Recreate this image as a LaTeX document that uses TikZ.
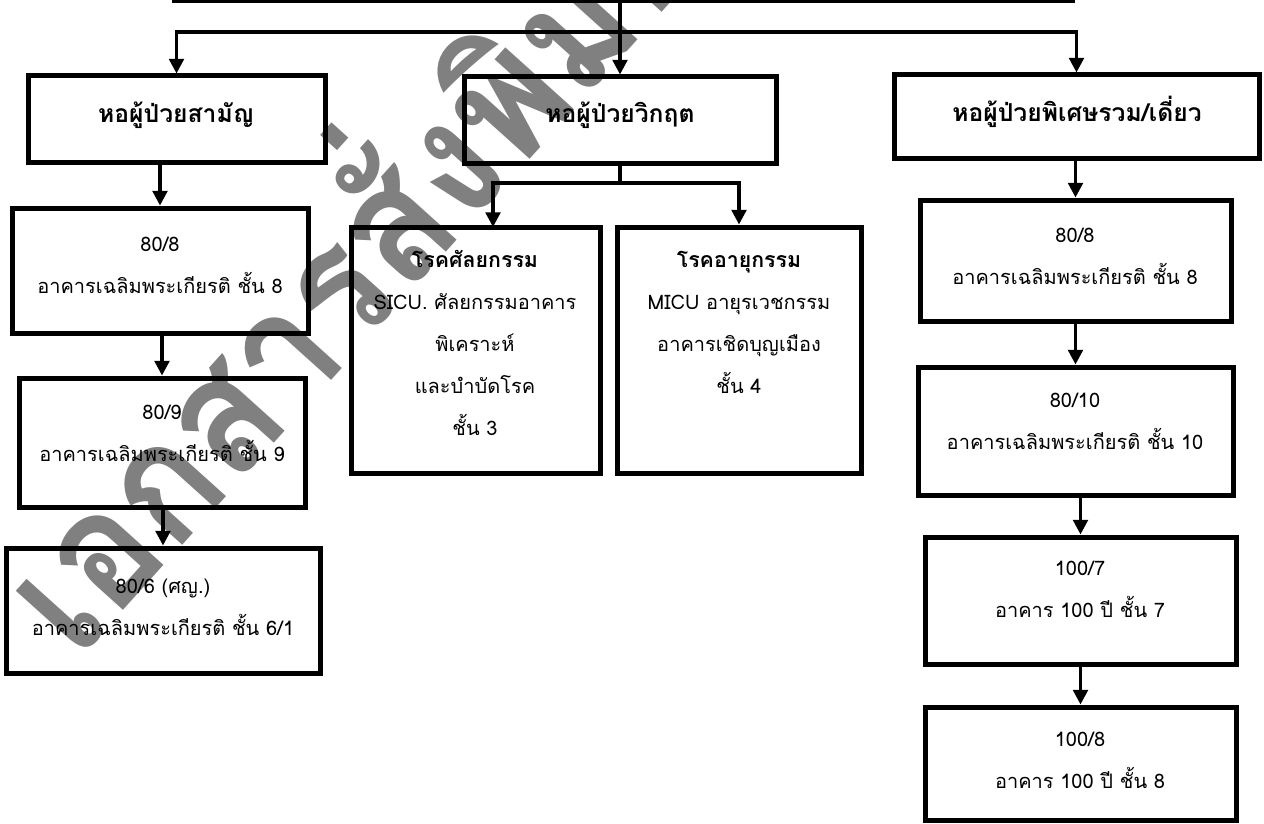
\documentclass[tikz,border=0pt]{standalone}
\usepackage{fontspec}
\newfontfamily\thai[Script=Thai]{Loma}
\usetikzlibrary{arrows.meta,fit}
\begin{document}
\begin{tikzpicture}[x=0.75pt,y=-0.75pt,
  box/.style={draw, line width=3.75pt, inner sep=0pt, rectangle},
  conn/.style={line width=2.5pt},
  arr/.style={conn, -{Triangle[length=11pt,width=11pt]}},
  txt/.style={font=\thai\fontsize{15}{31.5}\selectfont, align=center, inner sep=0pt},
  head/.style={font=\thai\bfseries\fontsize{18.5}{20}\selectfont, inner sep=0pt},
  wmark/.style={rotate=48, xscale=0.9, text=black!50, font=\thai\bfseries\fontsize{125}{125}\selectfont, inner sep=0pt}]
\useasboundingbox (0,0) rectangle (1264,824);
\clip (0,0) rectangle (1264,824);

% watermark
\node[wmark] (wm) at (333,251) {เอกสารสั่งพิมพ์};

% boxes
\node[box, fit={(174,-80) (1072,1)}] (top) {};
\node[box, fit={(28,76) (325,162)}] (box1) {};
\node[box, fit={(464,77) (776,163)}] (box2) {};
\node[box, fit={(894,75) (1259,158)}] (box3) {};
\node[box, fit={(12,208) (308,333)}] (L1) {};
\node[box, fit={(19,378) (305,507)}] (L2) {};
\node[box, fit={(6,548) (320,673)}] (L3) {};
\node[box, fit={(351,227) (600,473)}] (sicu) {};
\node[box, fit={(617,227) (861,473)}] (micu) {};
\node[box, fit={(920,200) (1231,321)}] (R1) {};
\node[box, fit={(918,367) (1233,495)}] (R2) {};
\node[box, fit={(925,537) (1236,664)}] (R3) {};
\node[box, fit={(925,707) (1236,820)}] (R4) {};

% texts
\node[head] (box1t) at (176,115) {หอผู้ป่วยสามัญ};
\node[head] (box2t) at (620,115) {หอผู้ป่วยวิกฤต};
\node[head] (box3t) at (1077,112) {หอผู้ป่วยพิเศษรวม/เดี่ยว};
\node[txt] (L1t) at (160,265) {80/8\\อาคารเฉลิมพระเกียรติ ชั้น 8};
\node[txt] (L2t) at (162,433) {80/9\\อาคารเฉลิมพระเกียรติ ชั้น 9};
\node[txt] (L3t) at (163,607) {80/6 (ศญ.)\\อาคารเฉลิมพระเกียรติ ชั้น 6/1};
\node[txt] (sicut) at (475,343) {{\bfseries\fontsize{16}{31.5}\selectfont โรคศัลยกรรม}\\SICU. ศัลยกรรมอาคาร\\พิเคราะห์\\และบำบัดโรค\\ชั้น 3};
\node[txt] (micut) at (739,322) {{\bfseries\fontsize{16}{31.5}\selectfont โรคอายุกรรม}\\MICU อายุรเวชกรรม\\อาคารเชิดบุญเมือง\\ชั้น 4};
\node[txt] (R1t) at (1075,256) {80/8\\อาคารเฉลิมพระเกียรติ ชั้น 8};
\node[txt] (R2t) at (1075,421) {80/10\\อาคารเฉลิมพระเกียรติ ชั้น 10};
\node[txt] (R3t) at (1080,589) {100/7\\อาคาร 100 ปี ชั้น 7};
\node[txt] (R4t) at (1080,760) {100/8\\อาคาร 100 ปี ชั้น 8};

% connectors
\coordinate (hb) at (620,32);
\coordinate (sb) at (620,183);
\coordinate (sa) at (493,227);
\draw[arr] (top.south -| box2.north) -- (box2.north);
\draw[arr] (hb) -| (box1.north);
\draw[arr] (hb) -| (box3.north);
\draw[arr] (box1.south -| L1.north) -- (L1.north);
\draw[arr] (L1.south -| L2.north) -- (L2.north);
\draw[arr] (L2.south -| L3.north) -- (L3.north);
\draw[conn] (box2.south) -- (sb);
\draw[arr] (sb) -| (sa);
\draw[arr] (sb) -| (micu.north);
\draw[arr] (box3.south -| R1.north) -- (R1.north);
\draw[arr] (R1.south -| R2.north) -- (R2.north);
\draw[arr] (R2.south -| R3.north) -- (R3.north);
\draw[arr] (R3.south -| R4.north) -- (R4.north);
\end{tikzpicture}
\end{document}
